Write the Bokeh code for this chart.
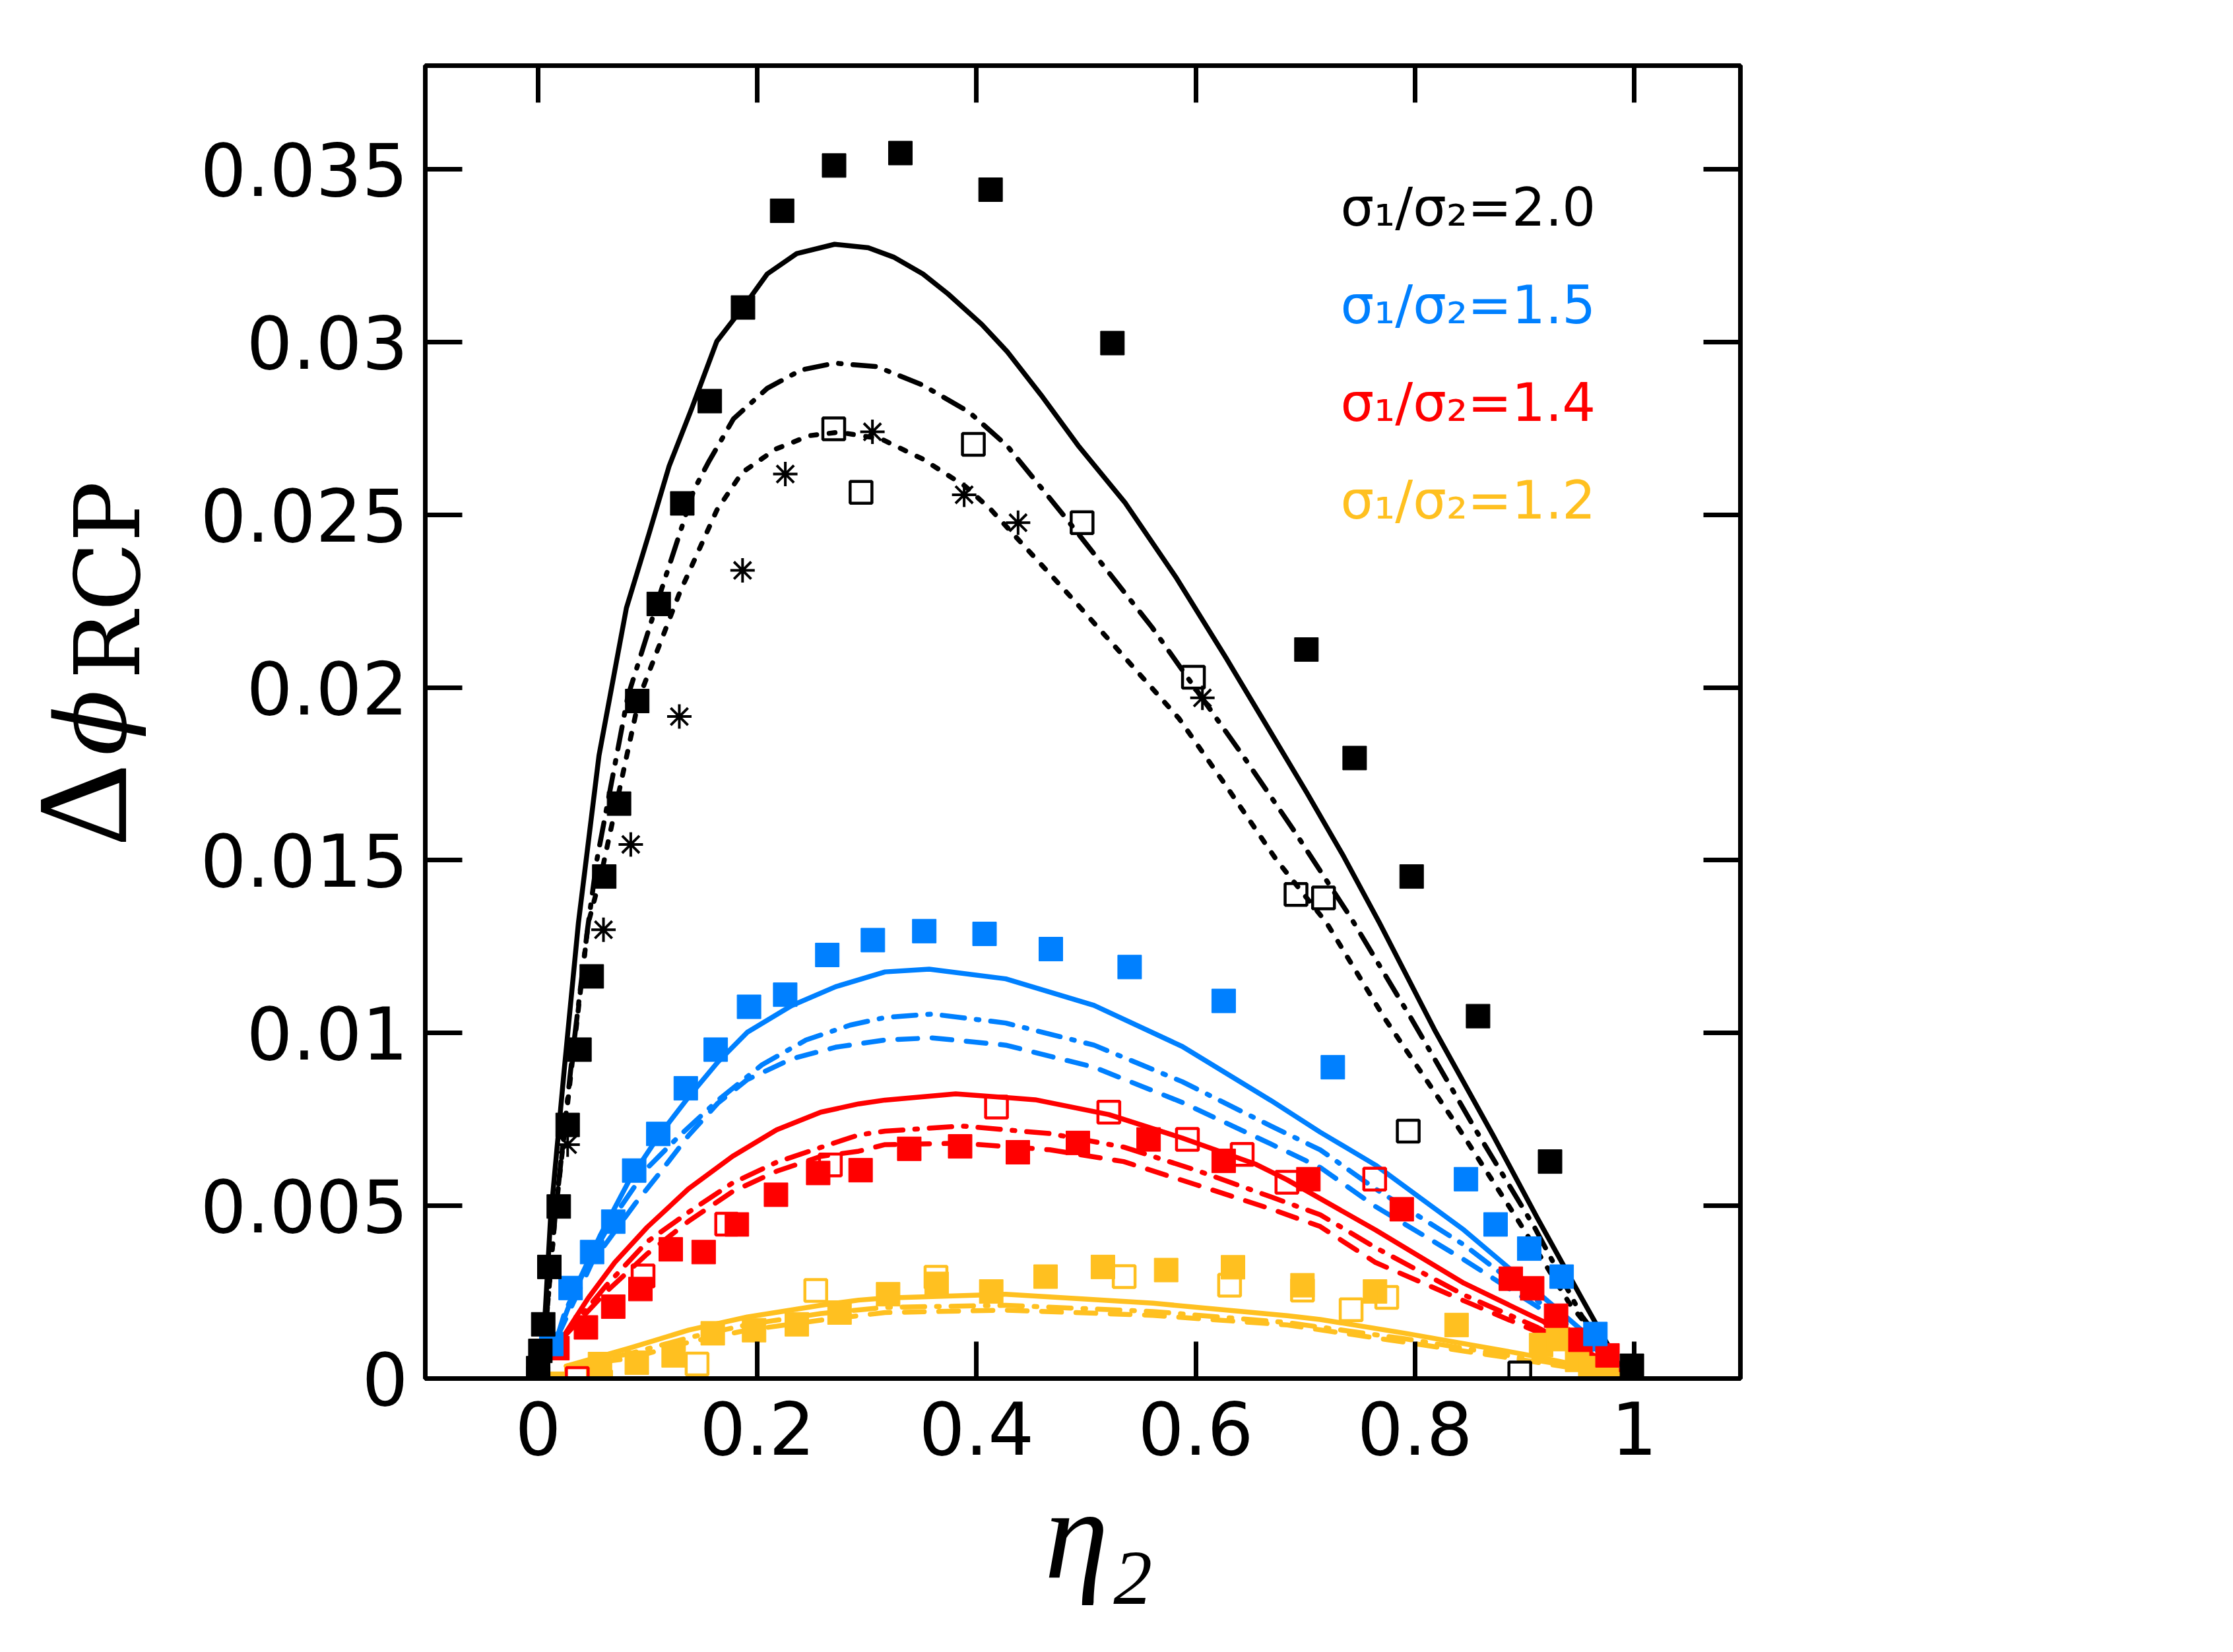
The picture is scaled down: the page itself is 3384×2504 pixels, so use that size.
import math
from bokeh.plotting import figure
from bokeh.layouts import row
from bokeh.models import Range1d, FixedTicker, LinearAxis, Label, CustomJSTickFormatter
from bokeh.embed import file_html
from bokeh.resources import INLINE

# ---------------- axis ticks ----------------
x_ticks = [0, 0.2, 0.4, 0.6, 0.8, 1]
x_tick_labels = ["0", "0.2", "0.4", "0.6", "0.8", "1"]
y_ticks = [0, 0.005, 0.01, 0.015, 0.02, 0.025, 0.03, 0.035]
y_tick_labels = ["0", "0.005", "0.01", "0.015", "0.02", "0.025", "0.03", "0.035"]
x_title = "\u00a0η₂"

# ---------------- legend texts ----------------
legend_texts = ["σ₁/σ₂=2.0", "σ₁/σ₂=1.5", "σ₁/σ₂=1.4", "σ₁/σ₂=1.2"]
colors = ["#000000", "#0080ff", "#ff0000", "#ffc020"]

# ---------------- sigma1/sigma2 = 2.0 (black) ----------------
blk_fill_x = [0.0, 0.0, 0.002, 0.0046, 0.0102, 0.0188, 0.0269, 0.0377, 0.0489, 0.0603, 0.0738, 0.0904,
              0.11, 0.1315, 0.1566, 0.1869, 0.2226, 0.270, 0.3305, 0.4128, 0.524, 0.701, 0.745, 0.797,
              0.8576, 0.9233, 0.998]
blk_fill_y = [0.0, 0.0003, 0.0008, 0.00157, 0.00323, 0.00498, 0.00734, 0.00952, 0.01164, 0.01453, 0.01664,
              0.01961, 0.02242, 0.02533, 0.02829, 0.0310, 0.0338, 0.03511, 0.03547, 0.03441, 0.02997, 0.0211,
              0.01796, 0.01453, 0.01049, 0.00628, 0.00037]
blk_open_x = [0.2697, 0.2946, 0.3971, 0.4963, 0.5979, 0.6915, 0.7166, 0.7939, 0.8957]
blk_open_y = [0.02749, 0.02565, 0.02704, 0.02477, 0.0203, 0.01401, 0.01391, 0.00716, 0.00016]
blk_star_x = [0.0, 0.0269, 0.0596, 0.0845, 0.1288, 0.1865, 0.2255, 0.305, 0.3887, 0.4379, 0.6061]
blk_star_y = [0.0, 0.00677, 0.01299, 0.01546, 0.01916, 0.02339, 0.02618, 0.0274, 0.02558, 0.02477, 0.0197]

blk_solid_x = [0.003, 0.0113, 0.0237, 0.0367, 0.0555, 0.0805, 0.1016, 0.1194, 0.14, 0.163, 0.1869, 0.209,
               0.2359, 0.2705, 0.3012, 0.3242, 0.3511, 0.3741, 0.4048, 0.4278, 0.4588, 0.4926, 0.5355,
               0.5816, 0.6276, 0.6645, 0.7013, 0.735, 0.7678, 0.8178, 0.8715, 0.9118, 0.9521, 0.988]
blk_solid_y = [0.0, 0.00464, 0.00891, 0.01318, 0.01803, 0.0223, 0.0245, 0.0264, 0.02807, 0.03002, 0.0310,
               0.03197, 0.03256, 0.03283, 0.03273, 0.03246, 0.03197, 0.03139, 0.03051, 0.02973, 0.02847,
               0.02701, 0.02535, 0.02321, 0.02086, 0.01891, 0.01696, 0.01511, 0.01318, 0.0101, 0.00703,
               0.00464, 0.00233, 0.0003]
blk_dashdot_x = [0.003, 0.0153, 0.0296, 0.045, 0.0535, 0.0818, 0.1113, 0.1420, 0.1552, 0.1783, 0.209,
                 0.2398, 0.2705, 0.3089, 0.3511, 0.3933, 0.4278, 0.4801, 0.5602, 0.643, 0.689, 0.7413,
                 0.7963, 0.8554, 0.9091, 0.9521, 0.988]
blk_dashdot_y = [0.0, 0.00464, 0.00891, 0.0130, 0.0150, 0.01974, 0.02272, 0.02571, 0.02651, 0.02778,
                 0.02866, 0.02919, 0.02939, 0.02929, 0.02875, 0.02797, 0.027, 0.02496, 0.02174, 0.01803,
                 0.01589, 0.01335, 0.01044, 0.0072, 0.00438, 0.00182, 0.0003]
blk_dot_x = [0.003, 0.0153, 0.0302, 0.0457, 0.0576, 0.0925, 0.1288, 0.1631, 0.186, 0.2167, 0.2474,
             0.2744, 0.3127, 0.3511, 0.3895, 0.4128, 0.4833, 0.5355, 0.5846, 0.6276, 0.6737, 0.7196,
             0.7721, 0.8339, 0.8929, 0.9413, 0.988]
blk_dot_y = [0.0, 0.00464, 0.00891, 0.01318, 0.01461, 0.01974, 0.02272, 0.02514, 0.02622, 0.0269,
             0.02729, 0.02739, 0.0272, 0.02661, 0.02583, 0.02516, 0.02272, 0.02086, 0.01911, 0.01716,
             0.01501, 0.01318, 0.01044, 0.00754, 0.00464, 0.00216, 0.0003]

# ---------------- sigma1/sigma2 = 1.5 (blue) ----------------
blu_fill_x = [0.012, 0.0296, 0.0492, 0.0685, 0.0876, 0.1096, 0.1347, 0.162, 0.1924, 0.2254, 0.2638,
              0.3054, 0.3523, 0.4073, 0.4678, 0.5397, 0.6255, 0.7251, 0.8466, 0.8736, 0.9043, 0.9339, 0.9647]
blu_fill_y = [0.0010, 0.00262, 0.00366, 0.00454, 0.00602, 0.00708, 0.0084, 0.00952, 0.01076, 0.01111,
              0.01226, 0.01269, 0.01295, 0.01287, 0.01243, 0.01191, 0.01093, 0.00901, 0.00577, 0.00446,
              0.00376, 0.00295, 0.00129]
blu_solid_x = [0.0175, 0.035, 0.0564, 0.0833, 0.1102, 0.1371, 0.1639, 0.1907, 0.231, 0.2714, 0.3165,
               0.3568, 0.4266, 0.5072, 0.5878, 0.6685, 0.7136, 0.764, 0.8447, 0.9118, 0.9521, 0.988]
blu_solid_y = [0.00122, 0.00268, 0.00413, 0.00575, 0.00703, 0.00814, 0.00916, 0.01002, 0.01079, 0.01134,
               0.01177, 0.01185, 0.01157, 0.0108, 0.00961, 0.00805, 0.00713, 0.00618, 0.0043, 0.0025,
               0.0014, 0.0002]
blu_dashdot_x = [0.0175, 0.0242, 0.0457, 0.0699, 0.0995, 0.129, 0.1639, 0.2042, 0.2445, 0.2848, 0.3165,
                 0.3596, 0.4266, 0.5072, 0.5878, 0.6685, 0.7136, 0.764, 0.8447, 0.9118, 0.9521, 0.988]
blu_dashdot_y = [0.0012, 0.00191, 0.00336, 0.00472, 0.00609, 0.00703, 0.00805, 0.00908, 0.0098, 0.01023,
                 0.01045, 0.01055, 0.01029, 0.00965, 0.00859, 0.00731, 0.00662, 0.00549, 0.00387, 0.00225,
                 0.00122, 0.0002]
blu_dash_x = [0.0175, 0.0492, 0.0887, 0.1102, 0.1371, 0.1639, 0.1907, 0.231, 0.2714, 0.3165, 0.3596,
              0.4266, 0.5072, 0.5878, 0.6685, 0.7136, 0.764, 0.8447, 0.9118, 0.9521, 0.988]
blu_dash_y = [0.0012, 0.00336, 0.00507, 0.00592, 0.00703, 0.00797, 0.00865, 0.00925, 0.00959, 0.0098,
              0.00986, 0.00965, 0.00901, 0.00799, 0.00679, 0.00611, 0.00498, 0.00344, 0.00208, 0.0011, 0.0002]

# ---------------- sigma1/sigma2 = 1.4 (red) ----------------
red_fill_x = [0.0, 0.0176, 0.0436, 0.0685, 0.0933, 0.121, 0.151, 0.1813, 0.217, 0.2555, 0.2942, 0.3386,
              0.385, 0.4377, 0.4925, 0.557, 0.6255, 0.7028, 0.788, 0.8875, 0.907, 0.9288, 0.951, 0.9757]
red_fill_y = [-0.0002, 0.00088, 0.00148, 0.00208, 0.00259, 0.00374, 0.00366, 0.00446, 0.00532, 0.00595,
              0.00603, 0.00665, 0.00672, 0.00655, 0.00682, 0.00692, 0.0063, 0.00577, 0.0049, 0.00289,
              0.00261, 0.00182, 0.00112, 0.00067]
red_open_x = [0.0357, 0.0957, 0.172, 0.2666, 0.4182, 0.5207, 0.5924, 0.6424, 0.6832, 0.7633]
red_open_y = [0.0, 0.00297, 0.00447, 0.00618, 0.00786, 0.00771, 0.00692, 0.00649, 0.00568, 0.00577]
red_solid_x = [0.0215, 0.0457, 0.0699, 0.0995, 0.1371, 0.1773, 0.2176, 0.2579, 0.2924, 0.3165, 0.381,
               0.4535, 0.5207, 0.5878, 0.655, 0.6835, 0.764, 0.8447, 0.9172, 0.9521, 0.988]
red_solid_y = [0.00114, 0.00233, 0.00336, 0.00438, 0.00549, 0.00643, 0.0072, 0.00771, 0.00795, 0.00806,
               0.00824, 0.00807, 0.00764, 0.00696, 0.0062, 0.00575, 0.0043, 0.00276, 0.00165, 0.00088, 0.0002]
red_dashdot_x = [0.0215, 0.0618, 0.0995, 0.1371, 0.1773, 0.2176, 0.2579, 0.2924, 0.3165, 0.3863, 0.4669,
                 0.5342, 0.6013, 0.6685, 0.7136, 0.764, 0.8447, 0.9118, 0.9521, 0.988]
red_dashdot_y = [0.00114, 0.00268, 0.00396, 0.00481, 0.00566, 0.00626, 0.00669, 0.00705, 0.00716, 0.00731,
                 0.00709, 0.0067, 0.00602, 0.00526, 0.00474, 0.00379, 0.00242, 0.00148, 0.0008, 0.0002]
red_dash_x = [0.0215, 0.0618, 0.0995, 0.1371, 0.1773, 0.2176, 0.2579, 0.2924, 0.3165, 0.3863, 0.4669,
              0.5342, 0.6013, 0.6685, 0.7136, 0.764, 0.8447, 0.9118, 0.9521, 0.988]
red_dash_y = [0.00114, 0.0025, 0.00361, 0.00455, 0.00541, 0.006, 0.00643, 0.00658, 0.00677, 0.00681,
              0.00662, 0.00628, 0.0056, 0.00491, 0.0044, 0.00336, 0.00225, 0.00135, 0.00075, 0.0002]

# ---------------- sigma1/sigma2 = 1.2 (yellow) ----------------
yel_fill_x = [0.0156, 0.0564, 0.09, 0.1236, 0.1593, 0.197, 0.236, 0.275, 0.3193, 0.3636, 0.4134, 0.463,
              0.5153, 0.573, 0.634, 0.6974, 0.7636, 0.838, 0.9151, 0.9306, 0.948, 0.96, 0.975]
yel_fill_y = [-0.00015, 0.00042, 0.00046, 0.00067, 0.00131, 0.0014, 0.00157, 0.00191, 0.00244, 0.00274,
              0.00252, 0.00295, 0.00323, 0.00314, 0.00322, 0.0027, 0.00252, 0.00155, 0.00097, 0.00114,
              0.00054, 0.0003, 0.0001]
yel_open_x = [0.035, 0.057, 0.145, 0.2533, 0.363, 0.5347, 0.6309, 0.6974, 0.7418, 0.7743]
yel_open_y = [0.00004, -0.00008, 0.00042, 0.00255, 0.00293, 0.00295, 0.0027, 0.00256, 0.00199, 0.00235]
yel_solid_x = [0.0257, 0.0833, 0.1371, 0.1907, 0.2579, 0.2924, 0.3165, 0.4266, 0.561, 0.6835, 0.7136,
               0.791, 0.8983, 0.9521, 0.988]
yel_solid_y = [0.00036, 0.00088, 0.0014, 0.00178, 0.00212, 0.00227, 0.00233, 0.00244, 0.00218, 0.00182,
               0.00171, 0.00131, 0.00071, 0.00037, 0.0001]
yel_dashdot_x = [0.0257, 0.0833, 0.1371, 0.1907, 0.2579, 0.3165, 0.4266, 0.561, 0.6835, 0.791, 0.8983,
                 0.9521, 0.988]
yel_dashdot_y = [0.00036, 0.00072, 0.00118, 0.00156, 0.00188, 0.00206, 0.00212, 0.00194, 0.00162, 0.00115,
                 0.0006, 0.0003, 0.0001]
yel_dash_x = [0.0257, 0.0833, 0.1371, 0.1907, 0.2579, 0.3165, 0.4266, 0.561, 0.6835, 0.791, 0.8983,
              0.9521, 0.988]
yel_dash_y = [0.00036, 0.00058, 0.00105, 0.0014, 0.00169, 0.00191, 0.00198, 0.00183, 0.00155, 0.00105,
              0.00054, 0.00026, 0.0001]

# ---------------- main figure ----------------
MAIN_W, MAIN_H = 3000, 2495
YLAB_W = 300

p = figure(width=MAIN_W, height=MAIN_H,
           x_range=Range1d(-0.103, 1.097), y_range=Range1d(0, 0.038),
           output_backend="svg", toolbar_location=None,
           min_border_left=343, min_border_right=663, min_border_top=99, min_border_bottom=406)
p.xgrid.visible = False
p.ygrid.visible = False
p.outline_line_color = "black"
p.outline_line_width = 7
p.background_fill_color = "white"
p.border_fill_color = "white"

TICK_FONT = "DejaVu Sans"


def style_axis(ax, ticks, overrides, standoff, show_labels=True):
    ax.ticker = FixedTicker(ticks=ticks)
    ax.axis_line_color = "black"
    ax.axis_line_width = 7
    ax.major_tick_in = 56
    ax.major_tick_out = 0
    ax.major_tick_line_width = 7
    ax.major_tick_line_color = "black"
    ax.minor_tick_line_color = None
    if show_labels:
        ax.major_label_overrides = overrides
        ax.major_label_text_font = TICK_FONT
        ax.major_label_text_font_size = "110px"
        ax.major_label_text_color = "black"
        ax.major_label_standoff = standoff
    else:
        ax.formatter = CustomJSTickFormatter(code="return ''")
        ax.major_label_standoff = 0
        ax.major_label_text_font_size = "1px"


style_axis(p.xaxis[0], x_ticks, dict(zip(x_ticks, x_tick_labels)), 34)
style_axis(p.yaxis[0], y_ticks, dict(zip(y_ticks, y_tick_labels)), 26)
p.xaxis[0].axis_label = x_title
p.xaxis[0].axis_label_text_font = "Liberation Serif"
p.xaxis[0].axis_label_text_font_style = "italic"
p.xaxis[0].axis_label_text_font_size = "196px"
p.xaxis[0].axis_label_text_color = "black"
p.xaxis[0].axis_label_standoff = 8

top_axis = LinearAxis()
style_axis(top_axis, x_ticks, None, 0, show_labels=False)
p.add_layout(top_axis, "above")
right_axis = LinearAxis()
style_axis(right_axis, y_ticks, None, 0, show_labels=False)
p.add_layout(right_axis, "right")

LW = 7.5
DASH = "30 22"
DASHDOT = "34 18 4 18"
DOT = "9 19"

line_sets = [
    (colors[0], [(blk_solid_x, blk_solid_y, "solid"), (blk_dashdot_x, blk_dashdot_y, DASHDOT),
                 (blk_dot_x, blk_dot_y, DOT)]),
    (colors[1], [(blu_solid_x, blu_solid_y, "solid"), (blu_dashdot_x, blu_dashdot_y, DASHDOT),
                 (blu_dash_x, blu_dash_y, DASH)]),
    (colors[2], [(red_solid_x, red_solid_y, "solid"), (red_dashdot_x, red_dashdot_y, DASHDOT),
                 (red_dash_x, red_dash_y, DASH)]),
    (colors[3], [(yel_solid_x, yel_solid_y, "solid"), (yel_dashdot_x, yel_dashdot_y, DASHDOT),
                 (yel_dash_x, yel_dash_y, DASH)]),
]
for col, lines in line_sets:
    for xs, ys, dash in lines:
        p.line(xs, ys, line_color=col, line_width=LW, line_dash=dash, line_cap="round", line_join="round")

SQ = 36
for xs, ys, col in [(yel_fill_x, yel_fill_y, colors[3]), (red_fill_x, red_fill_y, colors[2]),
                    (blu_fill_x, blu_fill_y, colors[1]), (blk_fill_x, blk_fill_y, colors[0])]:
    p.scatter(xs, ys, marker="square", size=SQ, fill_color=col, line_color=col, line_width=1)
for xs, ys, col in [(yel_open_x, yel_open_y, colors[3]), (red_open_x, red_open_y, colors[2]),
                    (blk_open_x, blk_open_y, colors[0])]:
    p.scatter(xs, ys, marker="square", size=SQ - 3, fill_color=None, line_color=col, line_width=4.5)
p.scatter(blk_star_x, blk_star_y, marker="asterisk", size=37, line_color=colors[0], line_width=4)

for i, (txt, col) in enumerate(zip(legend_texts, colors)):
    p.add_layout(Label(x=1387, y=1775 - 148 * i, x_units="screen", y_units="screen", text=txt,
                       text_color=col, text_font=TICK_FONT, text_font_size="80px",
                       text_align="left", text_baseline="alphabetic"))

# y axis title: Delta phi_RCP (rotated), in its own panel left of the plot
ylab = figure(width=YLAB_W, height=MAIN_H, x_range=Range1d(0, YLAB_W), y_range=Range1d(0, MAIN_H),
              output_backend="svg", toolbar_location=None, min_border=0,
              x_axis_location=None, y_axis_location=None)
ylab.grid.visible = False
ylab.outline_line_color = None
ylab.background_fill_color = "white"
ylab.border_fill_color = "white"
rot = math.pi / 2
ylab.add_layout(Label(x=124, y=806, x_units="screen", y_units="screen", text="Δ", angle=rot,
                      text_font="Liberation Serif", text_font_size="196px", text_color="black",
                      text_align="left", text_baseline="alphabetic"))
ylab.add_layout(Label(x=139, y=944, x_units="screen", y_units="screen", text="ϕ", angle=rot,
                      text_font="DejaVu Serif", text_font_style="italic", text_font_size="147px",
                      text_color="black", text_align="left", text_baseline="alphabetic"))
ylab.add_layout(Label(x=163, y=1060, x_units="screen", y_units="screen", text="RCP", angle=rot,
                      text_font="DejaVu Serif", text_font_size="137px", text_color="black",
                      text_align="left", text_baseline="alphabetic"))

layout = row(ylab, p)
open("out.html", "w").write(file_html(layout, INLINE))
